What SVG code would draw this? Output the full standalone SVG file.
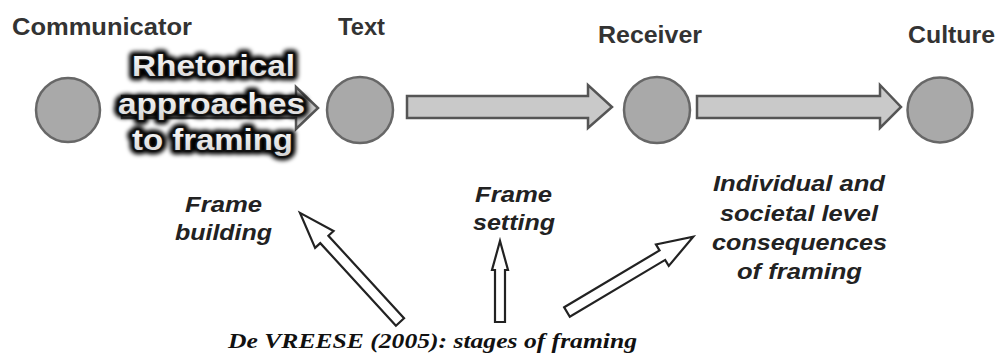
<svg xmlns="http://www.w3.org/2000/svg" width="999" height="356" viewBox="0 0 999 356">
  <defs>
    <style>
      .node { fill: #a9a9a9; stroke: #676767; stroke-width: 2.5; }
      .head { font-family: "Liberation Sans", Arial, sans-serif; font-weight: bold; font-size: 23px; fill: #333; }
      .lbl { font-family: "Liberation Sans", Arial, sans-serif; font-weight: bold; font-style: italic; font-size: 22px; fill: #222; }
      .src { font-family: "Liberation Serif", "Times New Roman", serif; font-weight: bold; font-style: italic; font-size: 22px; fill: #111; }
      .flow { fill: #c9c9c9; stroke: #555; stroke-width: 2.5; stroke-linejoin: miter; }
      .open { fill: #fff; stroke: #222; stroke-width: 2.2; stroke-linejoin: miter; }
      .rh { font-family: "Liberation Sans", Arial, sans-serif; font-weight: bold; font-size: 29px; }
      .rh-glow { fill: #000; stroke: #000; stroke-width: 9; stroke-linejoin: round; filter: url(#blur); }
      .rh-fill { fill: url(#rhg); stroke: #111; stroke-width: 3.5; stroke-linejoin: round; paint-order: stroke; }
    </style>
    <filter id="blur" x="-10%" y="-30%" width="120%" height="160%">
      <feGaussianBlur stdDeviation="2"/>
    </filter>
    <linearGradient id="rhg" x1="0" y1="0" x2="0" y2="1">
      <stop offset="0" stop-color="#ffffff"/>
      <stop offset="1" stop-color="#d4d4d4"/>
    </linearGradient>
  </defs>

  <g id="connectors">
    <path id="flow-comm-text" class="flow" d="M122,96 L296,96 L296,87 L318,108 L296,129 L296,118 L122,118 Z"/>
    <path id="flow-text-recv" class="flow" d="M407,96 L588,96 L588,85 L612,107 L588,128 L588,118 L407,118 Z"/>
    <path id="flow-recv-cult" class="flow" d="M697,96 L880,96 L880,85 L901,107 L880,128 L880,118 L697,118 Z"/>
    <path id="arrow-building" class="open" transform="translate(400,322) rotate(-132.5)" d="M0,-5.5 L112,-5.5 L112,-12.5 L148,0 L112,12.5 L112,5.5 L0,5.5 Z"/>
    <path id="arrow-setting" class="open" d="M495,322 L495,270 L492,270 L500,241 L508,270 L505,270 L505,322 Z"/>
    <path id="arrow-consequences" class="open" transform="translate(567,312) rotate(-30.8)" d="M0,-5.5 L111,-5.5 L111,-12.5 L147,0 L111,12.5 L111,5.5 L0,5.5 Z"/>
  </g>

  <g id="node-communicator">
    <circle class="node" cx="68" cy="110" r="32"/>
    <text class="head" x="12" y="35" textLength="180" lengthAdjust="spacingAndGlyphs">Communicator</text>
  </g>
  <g id="node-text">
    <circle class="node" cx="360" cy="110" r="33"/>
    <text class="head" x="338" y="35" textLength="47" lengthAdjust="spacingAndGlyphs">Text</text>
  </g>
  <g id="node-receiver">
    <circle class="node" cx="657" cy="110" r="33"/>
    <text class="head" x="598" y="43" textLength="104" lengthAdjust="spacingAndGlyphs">Receiver</text>
  </g>
  <g id="node-culture">
    <circle class="node" cx="940" cy="110" r="32.5"/>
    <text class="head" x="908" y="43" textLength="87" lengthAdjust="spacingAndGlyphs">Culture</text>
  </g>

  <g id="label-rhetorical">
    <g class="rh rh-glow">
      <text x="132" y="76" textLength="163" lengthAdjust="spacingAndGlyphs">Rhetorical</text>
      <text x="118" y="114" textLength="187" lengthAdjust="spacingAndGlyphs">approaches</text>
      <text x="132" y="150" textLength="161" lengthAdjust="spacingAndGlyphs">to framing</text>
    </g>
    <g class="rh rh-fill">
      <text x="132" y="76" textLength="163" lengthAdjust="spacingAndGlyphs">Rhetorical</text>
      <text x="118" y="114" textLength="187" lengthAdjust="spacingAndGlyphs">approaches</text>
      <text x="132" y="150" textLength="161" lengthAdjust="spacingAndGlyphs">to framing</text>
    </g>
  </g>

  <g id="label-frame-building">
    <text class="lbl" x="185" y="212" textLength="77" lengthAdjust="spacingAndGlyphs">Frame</text>
    <text class="lbl" x="175" y="240" textLength="97" lengthAdjust="spacingAndGlyphs">building</text>
  </g>
  <g id="label-frame-setting">
    <text class="lbl" x="475" y="202" textLength="77" lengthAdjust="spacingAndGlyphs">Frame</text>
    <text class="lbl" x="473" y="230" textLength="82" lengthAdjust="spacingAndGlyphs">setting</text>
  </g>
  <g id="label-consequences">
    <text class="lbl" x="713" y="191" textLength="172" lengthAdjust="spacingAndGlyphs">Individual and</text>
    <text class="lbl" x="720" y="221" textLength="158" lengthAdjust="spacingAndGlyphs">societal level</text>
    <text class="lbl" x="712" y="250" textLength="175" lengthAdjust="spacingAndGlyphs">consequences</text>
    <text class="lbl" x="737" y="279" textLength="125" lengthAdjust="spacingAndGlyphs">of framing</text>
  </g>
  <g id="label-source">
    <text class="src" x="228" y="348" textLength="409" lengthAdjust="spacingAndGlyphs">De VREESE (2005): stages of framing</text>
  </g>
</svg>
